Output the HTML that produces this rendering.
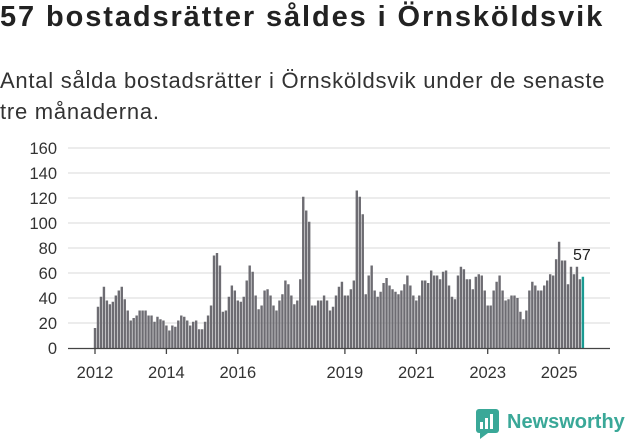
<!DOCTYPE html>
<html><head><meta charset="utf-8"><style>
body{margin:0;width:631px;height:439px;background:#fff;font-family:"Liberation Sans",sans-serif;overflow:hidden;position:relative}
h1{position:absolute;left:0;top:1px;margin:0;font-size:29px;font-weight:bold;color:#222;letter-spacing:1.9px;white-space:nowrap}
.sub{position:absolute;left:0;top:65px;margin:0;font-size:22px;line-height:31px;color:#333;width:628px;letter-spacing:0.75px}
svg{position:absolute;left:0;top:0}
</style></head><body>
<h1>57 bostadsrätter såldes i Örnsköldsvik</h1>
<p class="sub">Antal sålda bostadsrätter i Örnsköldsvik under de senaste<br>tre månaderna.</p>
<svg id="chart" width="631" height="439"></svg>
<script>
const yTicks=[0,20,40,60,80,100,120,140,160];
const yearLabels=["2012","2014","2016","2019","2021","2023","2025"];
const yearMonthIndex=[0,24,48,84,108,132,156];
const values=[16,33,41,49,38,35,37,42,46,49,39,30,22,24,26,30,30,30,26,26,21,25,23,22,18,14,18,17,22,26,25,22,18,21,22,15,15,21,26,34,74,76,66,29,30,41,50,46,38,37,41,54,66,61,42,31,
34,46,47,42,34,30,38,43,54,51,42,35,38,55,121,110,101,34,34,38,38,42,38,30,33,42,49,53,42,42,47,54,126,121,107,43,58,66,46,41,45,52,56,50,47,45,43,46,51,58,50,42,
38,42,54,54,52,62,58,58,55,61,62,50,41,39,58,65,63,55,55,47,57,59,58,46,34,34,46,53,58,46,38,39,42,42,40,29,23,30,46,53,50,46,46,50,54,59,58,71,85,70,70,51,65,59,65,55,57];
const svg=document.getElementById('chart');
const NS='http://www.w3.org/2000/svg';
const x0=95,pxPerMonth=2.975,yBase=348,pxPerUnit=1.25;
const xS=i=>x0+i*pxPerMonth;
const yS=v=>yBase-v*pxPerUnit;
function mk(t,a){const e=document.createElementNS(NS,t);for(const k in a)e.setAttribute(k,a[k]);svg.appendChild(e);return e;}
yTicks.forEach(v=>{
 if(v>0){const g=mk('line',{x1:68,x2:610,y1:yS(v),y2:yS(v),stroke:'#e0e0e0','stroke-width':1.3});
 
 }
 const t=mk('text',{x:57,y:yS(v)+6,'text-anchor':'end','font-size':16.5,fill:'#333','font-family':'Liberation Sans, sans-serif'});
 t.textContent=v;
 
 
});
values.forEach((v,i)=>{
 const last=i===values.length-1;
 const r=mk('rect',{x:xS(i)-1.2,y:yS(v),width:2.4,height:v*pxPerUnit,fill:last?'#1a9a92':'#6d6c72'});
 
 
});
const ax=mk('line',{x1:68,x2:610,y1:yBase+0.5,y2:yBase+0.5,stroke:'#444','stroke-width':1.3});


yearLabels.forEach((l,k)=>{
 const x=xS(yearMonthIndex[k]);
 const tk=mk('line',{x1:x,x2:x,y1:yBase,y2:yBase+6,stroke:'#444','stroke-width':1.3});
 
 
 const t=mk('text',{x:x,y:378,'text-anchor':'middle','font-size':16.5,fill:'#333','font-family':'Liberation Sans, sans-serif'});
 t.textContent=l;
 
 
});
const li=values.length-1;
const lab=mk('text',{x:xS(li)-1,y:yS(values[li])-17,'text-anchor':'middle','font-size':16,fill:'#222','font-family':'Liberation Sans, sans-serif'});
lab.textContent=values[li];


</script>
<svg width="631" height="439" style="position:absolute;left:0;top:0">
<rect x="476" y="409" width="23" height="24" rx="3" fill="#3aa898"/>
<rect x="480" y="422" width="3" height="7" fill="#fff"/><rect x="485" y="418" width="3" height="11" fill="#fff"/><rect x="490" y="414" width="3" height="15" fill="#fff"/>
<polygon points="480,433 488,433 480,439" fill="#3aa898"/>
<text x="507" y="428" font-size="20" font-weight="bold" fill="#3aa898" font-family="Liberation Sans, sans-serif">Newsworthy</text>
</svg>
</body></html>
